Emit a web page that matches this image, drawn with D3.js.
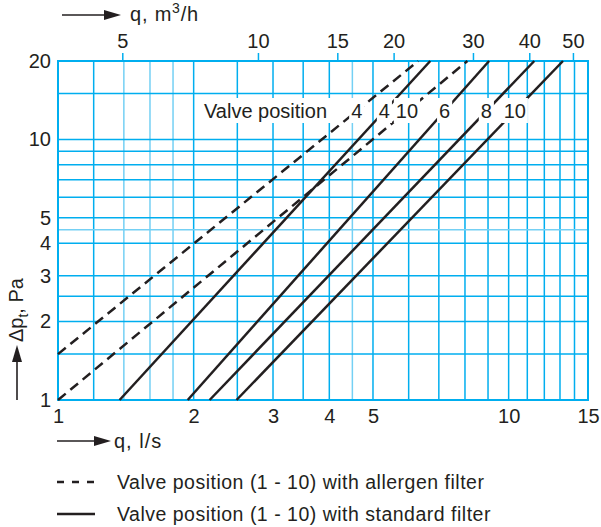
<!DOCTYPE html>
<html>
<head>
<meta charset="utf-8">
<script src="https://cdn.jsdelivr.net/npm/d3@7"></script>
<style>
  body { margin: 0; background: #fff; }
  svg { display: block; font-family: 'Liberation Sans', Arial, sans-serif; }
</style>
</head>
<body>
<svg id="chart"></svg>
<script>
// ===================================================================
// data

const xGrid = [ 1, 1.2, 1.4, 1.6, 1.8, 2, 2.5, 3, 3.5, 4, 4.5, 5, 6, 7, 8, 9, 10, 11, 12, 13, 14, 15 ]
const xGridLight = [ 1.4, 1.6, 1.8, 4.5 ]
const yGrid = [ 1, 1.5, 2, 2.5, 3, 4, 4.5, 5, 6, 7, 8, 9, 10, 15, 20 ]
const yGridLight = [ 4.5 ]

const xTicks = [ 1, 2, 3, 4, 5, 10, 15 ]
const yTicks = [ 1, 2, 3, 4, 5, 10, 20 ]
const topTicks = [ 5, 10, 15, 20, 30, 40, 50 ] // m3/h

// allergen filter (dashed), [q l/s, dp Pa] at both ends
const allergenLabels = [ '4', '10' ]
const allergenStart = [ [ 1, 1.5 ], [ 1, 1 ] ]
const allergenEnd = [ [ 6.3, 20 ], [ 8.1, 20 ] ]

// standard filter (solid)
const standardLabels = [ '4', '6', '8', '10' ]
const standardStart = [ [ 1.37, 1 ], [ 1.94, 1 ], [ 2.17, 1 ], [ 2.49, 1 ] ]
const standardEnd = [ [ 6.7, 20 ], [ 9.05, 20 ], [ 11.4, 20 ], [ 13.2, 20 ] ]

const legendTexts = [
  'Valve position (1 - 10) with allergen filter',
  'Valve position (1 - 10) with standard filter'
]

// ===================================================================

const WIDTH = 601
const HEIGHT = 527

const LEFT = 58
const RIGHT = 588
const TOP = 61
const BOTTOM = 400

const CYAN = '#00aeef'
const CYAN_LIGHT = '#74d0f4'
const INK = '#231f20'

const LABEL_P = 12.85

const x = d3.scaleLog().domain([ 1, 15 ]).range([ LEFT, RIGHT ])
const y = d3.scaleLog().domain([ 1, 20 ]).range([ BOTTOM, TOP ])
// top axis in m3/h, same positions
const xTop = d3.scaleLog().domain([ 3.6, 54 ]).range([ LEFT, RIGHT ])

const svg = d3.select('#chart')
  .attr('width', WIDTH)
  .attr('height', HEIGHT)

// grid
const grid = svg.append('g')

grid.selectAll('.gx')
  .data(xGrid)
  .enter().append('line')
    .attr('x1', d => x(d))
    .attr('x2', d => x(d))
    .attr('y1', TOP)
    .attr('y2', BOTTOM)
    .attr('stroke', d => xGridLight.includes(d) ? CYAN_LIGHT : CYAN)
    .attr('stroke-width', 1.5)

grid.selectAll('.gy')
  .data(yGrid)
  .enter().append('line')
    .attr('x1', LEFT)
    .attr('x2', RIGHT)
    .attr('y1', d => y(d))
    .attr('y2', d => y(d))
    .attr('stroke', d => yGridLight.includes(d) ? CYAN_LIGHT : CYAN)
    .attr('stroke-width', 1.5)

grid.append('rect')
  .attr('x', LEFT)
  .attr('y', TOP)
  .attr('width', RIGHT - LEFT)
  .attr('height', BOTTOM - TOP)
  .attr('fill', 'none')
  .attr('stroke', CYAN)
  .attr('stroke-width', 2)

// axes
const styleAxis = g => {
  g.select('.domain').remove()
  g.selectAll('text')
    .attr('font-size', 20)
    .attr('font-family', "'Liberation Sans', Arial, sans-serif")
    .attr('fill', INK)
}

svg.append('g')
  .attr('transform', `translate(0, ${BOTTOM})`)
  .call(d3.axisBottom(x).tickValues(xTicks).tickFormat(d3.format('d')).tickSize(0).tickPadding(9))
  .call(styleAxis)

svg.append('g')
  .attr('transform', `translate(${LEFT}, 0)`)
  .call(d3.axisLeft(y).tickValues(yTicks).tickFormat(d3.format('d')).tickSize(0).tickPadding(7))
  .call(styleAxis)

svg.append('g')
  .attr('transform', `translate(0, ${TOP})`)
  .call(d3.axisTop(xTop).tickValues(topTicks).tickFormat(d3.format('d')).tickSize(8).tickPadding(5))
  .call(styleAxis)
  .call(g => g.selectAll('.tick line').attr('stroke', CYAN).attr('stroke-width', 1.5))

// curves
const line = d3.line()
  .x(d => x(d[0]))
  .y(d => y(d[1]))

const curves = [
  ...allergenLabels.map((label, i) => ({ label, dashed: true, points: [ allergenStart[i], allergenEnd[i] ] })),
  ...standardLabels.map((label, i) => ({ label, dashed: false, points: [ standardStart[i], standardEnd[i] ] }))
]

svg.append('g')
  .selectAll('path')
  .data(curves)
  .enter().append('path')
    .attr('d', d => line(d.points))
    .attr('fill', 'none')
    .attr('stroke', INK)
    .attr('stroke-width', 2.5)
    .attr('stroke-dasharray', d => d.dashed ? '10,6' : null)

// q where a curve reaches LABEL_P (straight in log-log)
const qAt = (points, p) => {
  const [ [ q0, p0 ], [ q1, p1 ] ] = points
  const t = Math.log(p / p0) / Math.log(p1 / p0)
  return Math.exp(Math.log(q0) + t * Math.log(q1 / q0))
}

const labels = svg.append('g')
  .attr('font-size', 20)
  .attr('fill', INK)

const addLabel = (text, cx, anchor, pad) => {
  const g = labels.append('g')
  const rect = g.append('rect').attr('fill', '#fff')
  const t = g.append('text')
    .attr('x', cx)
    .attr('y', y(LABEL_P) + 7)
    .attr('text-anchor', anchor)
    .text(text)
  const box = t.node().getBBox()
  rect
    .attr('x', box.x - pad)
    .attr('y', 98)
    .attr('width', box.width + 2 * pad)
    .attr('height', 25)
}

addLabel('Valve position', 204, 'start', 6)
curves.forEach(c => addLabel(c.label, x(qAt(c.points, LABEL_P)), 'middle', 2))

// axis titles with arrows
const arrow = (x1, y1, x2, y2) => {
  const g = svg.append('g')
  const ang = Math.atan2(y2 - y1, x2 - x1)
  const len = 17
  const half = 5
  const bx = x2 - len * Math.cos(ang)
  const by = y2 - len * Math.sin(ang)
  g.append('line')
    .attr('x1', x1).attr('y1', y1)
    .attr('x2', bx).attr('y2', by)
    .attr('stroke', INK)
    .attr('stroke-width', 1.6)
  g.append('path')
    .attr('d', `M${x2},${y2}L${bx - half * Math.sin(ang)},${by + half * Math.cos(ang)}L${bx + half * Math.sin(ang)},${by - half * Math.cos(ang)}Z`)
    .attr('fill', INK)
}

arrow(62, 15, 121, 15)
const topTitle = svg.append('text')
  .attr('x', 130)
  .attr('y', 21)
  .attr('font-size', 20)
  .attr('letter-spacing', 0.8)
  .attr('fill', INK)
topTitle.append('tspan').text('q, m')
topTitle.append('tspan').attr('dy', -8).attr('font-size', 14).text('3')
topTitle.append('tspan').attr('dy', 8).text('/h')

arrow(57, 441, 111, 441)
svg.append('text')
  .attr('x', 114)
  .attr('y', 448)
  .attr('font-size', 20)
  .attr('letter-spacing', 1)
  .attr('fill', INK)
  .text('q, l/s')

arrow(17, 400, 17, 345)
const yTitle = svg.append('text')
  .attr('transform', 'translate(23, 342) rotate(-90)')
  .attr('font-size', 20)
  .attr('fill', INK)
yTitle.append('tspan').text('Δp')
yTitle.append('tspan').attr('dy', 5).attr('font-size', 14).text('t')
yTitle.append('tspan').attr('dy', -5).text(', Pa')

// legend
const legend = svg.append('g')
  .selectAll('g')
  .data(legendTexts)
  .enter().append('g')
    .attr('transform', (d, i) => `translate(0, ${482 + i * 32})`)

legend.append('line')
  .attr('x1', 57)
  .attr('x2', 95)
  .attr('stroke', INK)
  .attr('stroke-width', 2.5)
  .attr('stroke-dasharray', (d, i) => i === 0 ? '7,8' : null)

legend.append('text')
  .attr('x', 117)
  .attr('y', 7)
  .attr('font-size', 19.5)
  .attr('letter-spacing', 0.5)
  .attr('fill', INK)
  .text(d => d)
</script>
</body>
</html>
